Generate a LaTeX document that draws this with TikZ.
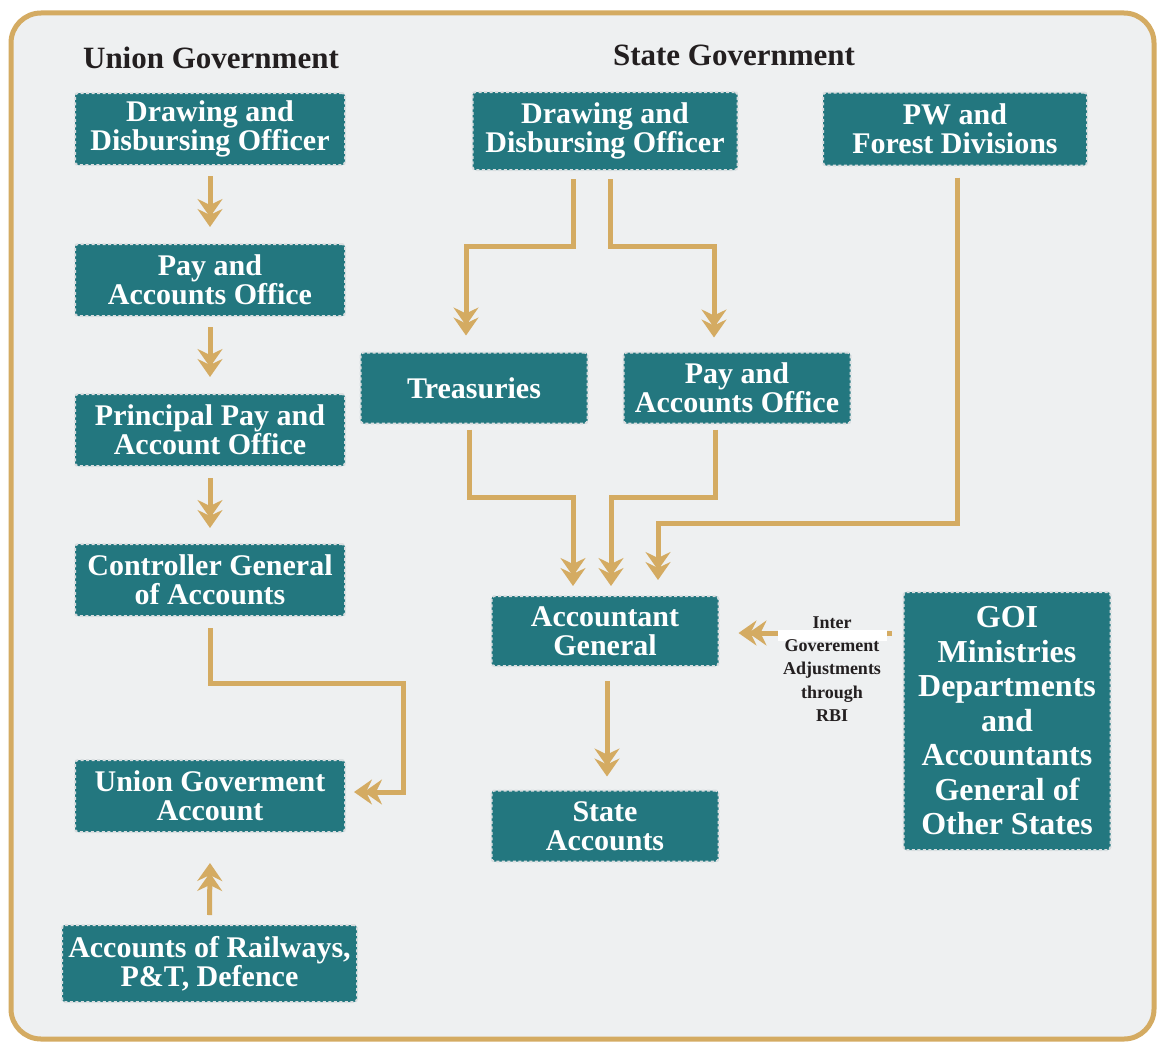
\documentclass[tikz,border=0pt]{standalone}
\usepackage{fontspec}
\setmainfont{Liberation Serif}
\usetikzlibrary{arrows.meta}
\definecolor{teal1}{HTML}{23777F}
\definecolor{gold}{HTML}{D4AB62}
\definecolor{bg}{HTML}{EEF0F1}
\definecolor{dashc}{HTML}{DADEE0}
\definecolor{ink}{HTML}{231F20}
\begin{document}
\begin{tikzpicture}[x=1pt,y=-1pt,
  box/.style={fill=teal1, draw=dashc, dash pattern=on 3pt off 2.5pt, line width=2pt,
    rounded corners=3pt, text=white, align=center, inner sep=0pt,
    font=\fontsize{30}{29}\selectfont\bfseries},
  title/.style={text=ink, font=\fontsize{31}{33}\selectfont\bfseries},
  flow/.style={draw=gold, line width=5pt,
    -{Stealth[length=18pt,width=25pt,inset=6pt,sep=-8pt]Stealth[length=18pt,width=25pt,inset=6pt]}},
  lbl/.style={text=ink, align=center, inner sep=0pt, font=\fontsize{18}{23.3}\selectfont\bfseries}]
\useasboundingbox (0,0) rectangle (1158,1041);
\fill[white] (0,0) rectangle (1158,1041);
\draw[gold, line width=5pt, fill=bg, rounded corners=30pt] (11,13) rectangle (1154,1039);

\node[title] (ut) at (211,58) {Union Government};
\node[title] (st) at (734,55) {State Government};

\node[box, minimum width=270pt, minimum height=72pt] (u1) at (210,129) {Drawing and\\Disbursing Officer};
\node[box, minimum width=270pt, minimum height=72pt] (u2) at (210,280) {Pay and\\Accounts Office};
\node[box, minimum width=270pt, minimum height=72pt] (u3) at (210,430) {Principal Pay and\\Account Office};
\node[box, minimum width=270pt, minimum height=72pt] (u4) at (210,580) {Controller General\\of Accounts};
\node[box, minimum width=270pt, minimum height=72pt] (u5) at (210,796) {Union Goverment\\Account};
\node[box, minimum width=295pt, minimum height=77pt] (rw) at (209.5,963.5) {Accounts of Railways,\\P\&T, Defence};

\node[box, minimum width=265pt, minimum height=78pt] (s1) at (605,131) {Drawing and\\Disbursing Officer};
\node[box, minimum width=264pt, minimum height=73pt] (pw) at (955,129) {PW and\\Forest Divisions};
\node[box, minimum width=227pt, minimum height=71pt] (tr) at (474,388) {Treasuries};
\node[box, minimum width=227pt, minimum height=71pt] (pa) at (737,388) {Pay and\\Accounts Office};
\node[box, minimum width=227pt, minimum height=70pt] (ag) at (605,631) {Accountant\\General};
\node[box, minimum width=227pt, minimum height=71pt] (sa) at (605,826) {State\\Accounts};
\node[box, minimum width=207pt, minimum height=258pt, font=\fontsize{32}{34.5}\selectfont\bfseries] (goi) at (1007,721)
  {GOI\\Ministries\\Departments\\and\\Accountants\\General of\\Other States};

% union column
\draw[flow] ([yshift=-10pt]u1.south) -- ([yshift=16pt]u2.north);
\draw[flow] ([yshift=-10pt]u2.south) -- ([yshift=16pt]u3.north);
\draw[flow] ([yshift=-11pt]u3.south) -- ([yshift=15pt]u4.north);
\draw[flow] ([yshift=-11pt]u4.south) -- ++(0,55) -- ++(193,0) |- ([xshift=8pt,yshift=4pt]u5.east);
\draw[flow] ([yshift=9pt]rw.north) -- ([yshift=-30pt]u5.south);

% state column
\draw[flow] ([xshift=-32pt,yshift=-8pt]s1.south) -- ++(0,67) -| ([xshift=-8pt,yshift=16pt]tr.north);
\draw[flow] ([xshift=5pt,yshift=-8pt]s1.south) -- ++(0,67) -| ([xshift=-23pt,yshift=14pt]pa.north);
\draw[flow] ([xshift=-5pt,yshift=-5pt]tr.south) -- ++(0,68) -| ([xshift=-32pt,yshift=9pt]ag.north);
\draw[flow] ([xshift=-22pt,yshift=-5pt]pa.south) -- ++(0,68) -| ([xshift=6pt,yshift=9pt]ag.north);
\draw[flow] ([xshift=2pt,yshift=-11pt]pw.south) -- ++(0,346) -| ([xshift=53pt,yshift=15pt]ag.north);
\draw[flow] ([xshift=2pt,yshift=-14pt]ag.south) -- ([xshift=2pt,yshift=13pt]sa.north);

% GOI to AG
\draw[flow] ([xshift=-11pt,yshift=88pt]goi.west) -- ([xshift=19pt,yshift=-2pt]ag.east);
\fill[white] (778,630) rectangle (887,641);
\node[lbl] (adj) at (832,669) {Inter\\Goverement\\Adjustments\\through\\RBI};
\end{tikzpicture}
\end{document}
